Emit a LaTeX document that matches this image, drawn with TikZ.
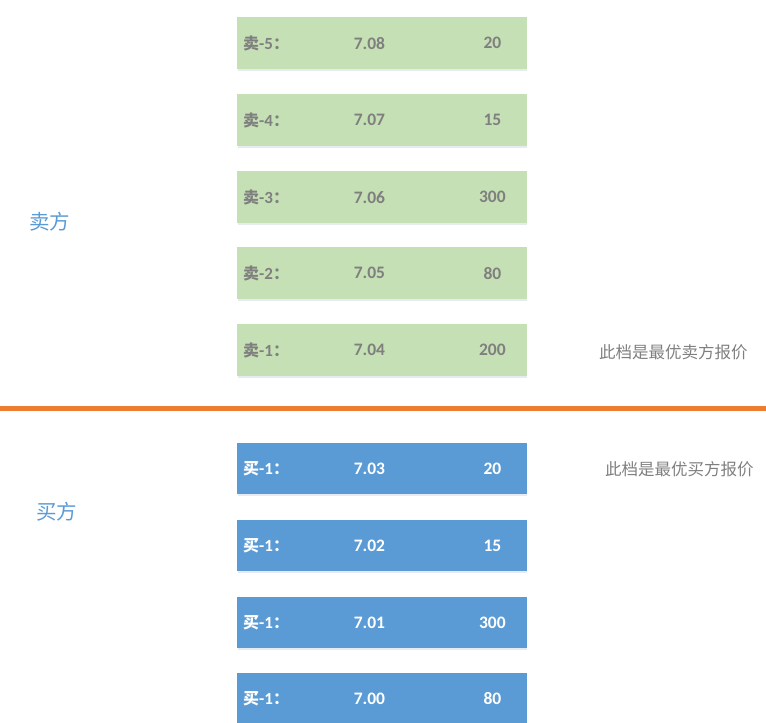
\documentclass[tikz,border=0pt]{standalone}
\usepackage{fontspec}
\setmainfont{Carlito}
\newfontfamily\cjk{Noto Sans CJK SC}
\definecolor{sellgreen}{HTML}{C5E0B4}
\definecolor{buyblue}{HTML}{5B9BD5}
\definecolor{txtgray}{HTML}{7F7F7F}
\definecolor{sidelbl}{HTML}{5B9BD5}
\definecolor{orangeline}{HTML}{ED7D31}
\definecolor{shadowc}{HTML}{E6EBF2}
\tikzset{
  sellbox/.style={fill=sellgreen, draw=none, minimum width=290pt, minimum height=52pt, inner sep=0pt, anchor=north west},
  buybox/.style={fill=buyblue, draw=none, minimum width=290pt, minimum height=51pt, inner sep=0pt, anchor=north west},
  lbl/.style={font=\fontsize{17}{17}\selectfont\bfseries, anchor=west, inner sep=0pt},
  num/.style={font=\fontsize{17.5}{17.5}\selectfont\bfseries, inner sep=0pt},
  side/.style={font=\cjk\fontsize{20.5}{20.5}\selectfont, text=sidelbl, anchor=west, inner sep=0pt},
  note/.style={font=\cjk\fontsize{16.5}{16.5}\selectfont, text=txtgray, anchor=west, inner sep=0pt},
}
\begin{document}
\begin{tikzpicture}[x=1pt,y=-1pt]
\useasboundingbox (0,0) rectangle (766,723);
% sell side
\foreach \i/\y/\p/\q in {5/17/7.08/20, 4/94/7.07/15, 3/171/7.06/300, 2/247/7.05/80, 1/324/7.04/200}{
  \fill[shadowc] (238,\y+52) rectangle (527,\y+53.5);
  \node[sellbox] (s\i) at (237,\y) {};
  \node[lbl, text=txtgray] (s\i l) at ([xshift=6pt]s\i.west) {{\cjk\fontsize{16}{16}\selectfont\bfseries 卖}-\i{\cjk\fontsize{16}{16}\selectfont\bfseries ：}};
  \node[num, text=txtgray] (s\i p) at ([xshift=-158pt]s\i.east) {\p};
  \node[num, text=txtgray] (s\i q) at ([xshift=-35pt]s\i.east) {\q};
}
% buy side
\foreach \i/\y/\p/\q in {1/443/7.03/20, 2/520/7.02/15, 3/597/7.01/300, 4/673/7.00/80}{
  \fill[shadowc] (238,\y+51) rectangle (527,\y+52.5);
  \node[buybox] (b\i) at (237,\y) {};
  \node[lbl, text=white] (b\i l) at ([xshift=6pt]b\i.west) {{\cjk\fontsize{16}{16}\selectfont\bfseries 买}-1{\cjk\fontsize{16}{16}\selectfont\bfseries ：}};
  \node[num, text=white] (b\i p) at ([xshift=-158pt]b\i.east) {\p};
  \node[num, text=white] (b\i q) at ([xshift=-35pt]b\i.east) {\q};
}
% divider
\coordinate (dl) at (0,408.5);
\coordinate (dr) at (766,408.5);
\draw[orangeline, line width=5pt] (dl) -- (dr);
% side labels
\node[side] (sell) at (29,222) {卖方};
\node[side] (buy) at (36,512) {买方};
\node[note] (bestsell) at (599,352) {此档是最优卖方报价};
\node[note] (bestbuy) at (605,469) {此档是最优买方报价};
\end{tikzpicture}
\end{document}
